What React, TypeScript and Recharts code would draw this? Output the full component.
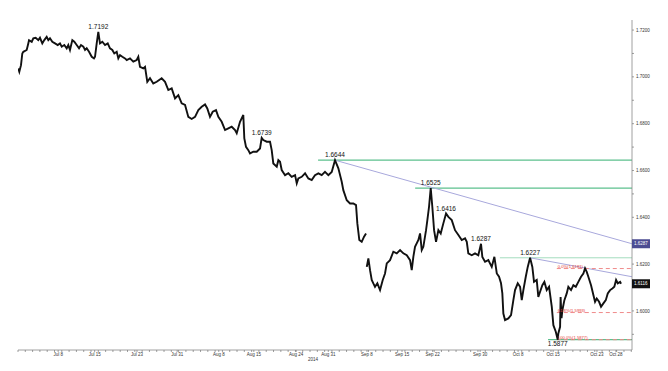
import { LineChart, Line, XAxis, YAxis, ReferenceLine, ReferenceDot } from 'recharts';

// trading-day position (0 = start of July) and GBP/USD price
const sessionDay = [
  0.04, 0.18, 0.41, 0.59, 0.73, 1.19, 1.41, 1.51, 1.88, 2.10, 2.42, 2.78, 3.01, 3.33, 3.60, 3.93, 4.15, 4.38, 4.70, 5.07,
  5.44, 5.75, 5.99, 6.34, 6.67, 6.89, 7.12, 7.44, 7.71, 8.04, 8.36, 8.63, 8.95, 9.18, 9.41, 9.73, 10.10, 10.41, 10.55, 10.78,
  11.00, 11.23, 11.55, 11.92, 12.29, 12.60, 12.92, 13.19, 13.52, 13.74, 13.97, 14.29, 14.66, 14.89, 15.34, 15.79, 16.26, 16.48, 16.71, 17.16,
  17.40, 17.71, 18.08, 18.53, 19.00, 19.68, 20.14, 20.59, 21.05, 21.51, 21.96, 22.42, 22.88, 23.33, 23.79, 24.25, 24.70, 25.16, 25.62, 25.93,
  26.30, 26.67, 27.12, 27.44, 27.90, 28.36, 28.81, 29.27, 29.73, 29.96, 30.41, 30.86, 31.00, 31.23, 31.55, 31.78, 32.23, 32.70, 33.15, 33.38,
  33.60, 34.07, 34.52, 34.75, 34.97, 35.44, 35.66, 35.89, 36.12, 36.58, 37.03, 37.49, 37.95, 38.18, 38.40, 38.86, 39.32, 39.77, 40.23, 40.68,
  41.14, 41.60, 42.05, 42.51, 42.97, 43.42, 43.88, 44.34, 44.56, 45.03, 45.48, 45.93, 46.30, 46.48, 46.75, 47.08, 47.40, 47.67, 47.72, 47.77,
  47.99, 48.22, 48.45, 48.67, 48.90, 49.22, 49.59, 49.96, 50.27, 50.51, 50.96, 51.41, 51.88, 52.33, 52.78, 53.25, 53.70, 53.93, 54.15, 54.38,
  54.84, 55.07, 55.30, 55.52, 55.89, 56.07, 56.30, 56.53, 56.75, 56.99, 57.26, 57.58, 57.90, 58.26, 58.63, 58.95, 59.41, 59.86, 60.32, 60.78,
  61.23, 61.47, 61.68, 62.15, 62.60, 63.05, 63.42, 63.60, 63.97, 64.42, 64.89, 65.25, 65.58, 65.89, 66.16, 66.34, 66.48, 66.71, 67.16, 67.53,
  67.85, 68.08, 68.45, 68.77, 69.00, 69.22, 69.55, 69.82, 70.14, 70.45, 70.68, 71.05, 71.27, 71.51, 71.82, 72.10, 72.42, 72.74, 73.11, 73.33,
  73.66, 73.93, 74.01, 74.25, 74.32, 74.45, 74.56, 74.84, 75.16, 75.38, 75.75, 76.07, 76.40, 76.75, 77.12, 77.44, 77.67, 77.90, 78.12, 78.49,
  78.81, 79.04, 79.27, 79.59, 79.86, 80.18, 80.51, 80.78, 81.10, 81.41, 81.68, 81.92, 82.15, 82.47, 82.60,
];

const gbpusd = [
  1.7036, 1.7022, 1.7050, 1.7100, 1.7107, 1.7115, 1.7143, 1.7157, 1.7150, 1.7165, 1.7167, 1.7157, 1.7167, 1.7143, 1.7157, 1.7171, 1.7157, 1.7165, 1.7150, 1.7143,
  1.7136, 1.7143, 1.7129, 1.7136, 1.7122, 1.7136, 1.7115, 1.7157, 1.7150, 1.7136, 1.7122, 1.7136, 1.7129, 1.7115, 1.7122, 1.7107, 1.7086, 1.7079, 1.7086, 1.7143,
  1.7192, 1.7143, 1.7150, 1.7136, 1.7143, 1.7122, 1.7115, 1.7100, 1.7107, 1.7079, 1.7093, 1.7086, 1.7079, 1.7072, 1.7079, 1.7065, 1.7072, 1.7086, 1.7043, 1.7036,
  1.7043, 1.6979, 1.6994, 1.6972, 1.6979, 1.6994, 1.6979, 1.6944, 1.6951, 1.6908, 1.6922, 1.6887, 1.6880, 1.6829, 1.6820, 1.6829, 1.6858, 1.6872, 1.6882, 1.6865,
  1.6829, 1.6851, 1.6858, 1.6829, 1.6808, 1.6773, 1.6780, 1.6787, 1.6773, 1.6759, 1.6808, 1.6837, 1.6737, 1.6701, 1.6687, 1.6673, 1.6680, 1.6680, 1.6694, 1.6739,
  1.6730, 1.6723, 1.6723, 1.6687, 1.6630, 1.6616, 1.6644, 1.6637, 1.6602, 1.6580, 1.6588, 1.6573, 1.6580, 1.6545, 1.6566, 1.6573, 1.6588, 1.6566, 1.6559, 1.6580,
  1.6588, 1.6580, 1.6594, 1.6580, 1.6594, 1.6644, 1.6609, 1.6552, 1.6516, 1.6473, 1.6459, 1.6459, 1.6452, 1.6374, 1.6303, 1.6295, 1.6317, 1.6331, null, 1.6188,
  1.6224, 1.6174, 1.6132, 1.6118, 1.6103, 1.6118, 1.6089, 1.6132, 1.6160, 1.6203, 1.6217, 1.6253, 1.6246, 1.6260, 1.6246, 1.6238, 1.6217, 1.6174, 1.6231, 1.6274,
  1.6303, 1.6331, 1.6260, 1.6274, 1.6345, 1.6388, 1.6445, 1.6525, 1.6445, 1.6345, 1.6295, 1.6345, 1.6331, 1.6374, 1.6416, 1.6402, 1.6388, 1.6345, 1.6324, 1.6303,
  1.6310, 1.6295, 1.6246, 1.6238, 1.6246, 1.6238, 1.6287, 1.6231, 1.6210, 1.6217, 1.6188, 1.6231, 1.6160, 1.6146, 1.6118, 1.6075, 1.5989, 1.5961, 1.5968, 1.5982,
  1.6046, 1.6089, 1.6118, 1.6103, 1.6046, 1.6089, 1.6146, 1.6188, 1.6227, 1.6188, 1.6124, 1.6132, 1.6060, 1.6082, 1.6110, 1.6124, 1.6089, 1.6103, 1.6018, 1.5939,
  1.5911, 1.5877, 1.5904, 1.5932, 1.6059, 1.5969, 1.6003, 1.6046, 1.6075, 1.6103, 1.6089, 1.6110, 1.6103, 1.6124, 1.6146, 1.6160, 1.6182, 1.6167, 1.6146, 1.6110,
  1.6068, 1.6039, 1.6053, 1.6039, 1.6018, 1.6032, 1.6046, 1.6075, 1.6089, 1.6096, 1.6103, 1.6132, 1.6118, 1.6124, 1.6116,
];

const dateTicks = [5.5, 10.5, 16.3, 21.8, 27.5, 32.3, 38.1, 42.5, 47.8, 52.6, 56.8, 63.3, 68.5, 73.3, 79.3, 81.9];
const dateLabels = ['Jul 8', 'Jul 15', 'Jul 23', 'Jul 31', 'Aug 8', 'Aug 15', 'Aug 24', 'Aug 31', 'Sep 8', 'Sep 15', 'Sep 22', 'Sep 30', 'Oct 8', 'Oct 15', 'Oct 23', 'Oct 28'];

const priceTicks = [1.59, 1.6, 1.61, 1.62, 1.63, 1.64, 1.65, 1.66, 1.67, 1.68, 1.69, 1.7, 1.71, 1.72];

// swing highs / lows that get a text label
const swingDay = [11.0, 33.38, 43.42, 56.53, 58.63, 63.42, 70.14];
const swingPrice = [1.7192, 1.6739, 1.6644, 1.6525, 1.6416, 1.6287, 1.6227];
const swingLow = { day: 73.93, price: 1.5877 };

// horizontal support / resistance lines (start day, level)
const levelStart = [41.1, 54.4, 66.0, 72.6];
const levelPrice = [1.6644, 1.6525, 1.6227, 1.5877];

// fibonacci levels
const fibStart = 73.8;
const fibPrice = [1.6181, 1.5993, 1.5877];
const fibLabels = ['0.0%(1.6181)', '61.8%(1.5993)', '100.0%(1.5877)'];

const lastDay = 84.1;
const trendStart = [{ day: 43.42, price: 1.6644 }, { day: 70.14, price: 1.6227 }];
const trendEnd = [1.6287, 1.6146];
const lastPrice = 1.6116;

const data = sessionDay.map((d, i) => ({ day: d, price: gbpusd[i] }));
const minorDays = Array.from({ length: 85 }, (_, i) => i);

const DateTick = (props: any) => {
  const { x, y, payload } = props;
  const idx = dateTicks.indexOf(payload.value);
  return (
    <g>
      <line x1={x} x2={x} y1={y - 2} y2={y} stroke="#777" strokeWidth={0.7} />
      {idx >= 0 && (
        <text x={x} y={y + 4} textAnchor="middle" fontSize={4.5} fill="#333">
          {dateLabels[idx]}
        </text>
      )}
    </g>
  );
};

const PriceTick = (props: any) => {
  const { x, y, payload } = props;
  const v = payload.value;
  if (v === trendEnd[0] || v === lastPrice) {
    const fill = v === lastPrice ? '#111' : '#4c4c92';
    return (
      <g>
        <rect x={x - 4} y={y - 4.5} width={18} height={9} fill={fill} />
        <text x={x - 2} y={y + 1.6} fontSize={4.5} fill="#fff">{v.toFixed(4)}</text>
      </g>
    );
  }
  const hundredths = Math.round(v * 100);
  const major = hundredths % 2 === 0;
  return (
    <g>
      <line x1={x - 4} x2={x - 2} y1={y} y2={y} stroke="#777" strokeWidth={0.7} />
      {major && (
        <text x={x} y={y + 1.6} fontSize={4.5} fill="#333">{v.toFixed(4)}</text>
      )}
    </g>
  );
};

export default function App() {
  return (
    <div style={{ position: 'absolute', left: 0, top: 0, background: '#fff', fontFamily: '"Liberation Sans", Arial, sans-serif' }}>
      <LineChart width={668} height={371} data={data} margin={{ top: 20, right: 6, bottom: 3, left: 18 }}>
        <XAxis
          dataKey="day"
          type="number"
          domain={[0, lastDay]}
          ticks={[...minorDays, ...dateTicks]}
          interval={0}
          height={8}
          tickSize={2}
          tickMargin={0}
          tickLine={false}
          tick={<DateTick />}
          axisLine={{ stroke: '#888', strokeWidth: 0.8 }}
          allowDataOverflow
        />
        <XAxis
          xAxisId="year"
          dataKey="day"
          type="number"
          domain={[0, lastDay]}
          ticks={[40.4]}
          tickFormatter={() => '2014'}
          height={10}
          tickSize={0}
          tickMargin={0}
          tickLine={false}
          axisLine={false}
          tick={{ fontSize: 4.5, fill: '#333' }}
        />
        <YAxis
          orientation="right"
          type="number"
          domain={[1.5833, 1.7243]}
          allowDataOverflow
          ticks={[...priceTicks, trendEnd[0], lastPrice]}
          interval={0}
          width={30}
          tickSize={2}
          tickMargin={2}
          tickLine={false}
          tick={<PriceTick />}
          axisLine={{ stroke: '#888', strokeWidth: 0.8 }}
        />

        {levelPrice.map((p, i) => (
          <ReferenceLine
            key={`lvl${i}`}
            segment={[{ x: levelStart[i], y: p }, { x: lastDay, y: p }]}
            stroke={i === 2 ? '#a3dcbe' : '#5cc08e'}
            strokeWidth={i === 2 ? 1 : 1.2}
          />
        ))}

        {trendStart.map((s, i) => (
          <ReferenceLine
            key={`trend${i}`}
            segment={[{ x: s.day, y: s.price }, { x: lastDay, y: trendEnd[i] }]}
            stroke="#a8a8dc"
            strokeWidth={1}
          />
        ))}

        {fibPrice.map((p, i) => (
          <ReferenceLine
            key={`fib${i}`}
            segment={[{ x: fibStart, y: p }, { x: lastDay, y: p }]}
            stroke="#f08a8a"
            strokeDasharray="4 3"
            strokeWidth={1}
            label={{ value: fibLabels[i], position: 'insideBottomLeft', offset: 1, fontSize: 4.2, fill: '#e53935' }}
          />
        ))}

        <Line
          dataKey="price"
          stroke="#111"
          strokeWidth={1.9}
          dot={false}
          isAnimationActive={false}
          strokeLinejoin="miter"
        />

        {swingDay.map((d, i) => (
          <ReferenceDot
            key={`sw${i}`}
            x={d}
            y={swingPrice[i]}
            r={0}
            fill="none"
            stroke="none"
            label={{ value: swingPrice[i].toFixed(4), position: 'top', offset: 3, fontSize: 6.5, fill: '#111' }}
          />
        ))}
        <ReferenceDot
          x={swingLow.day}
          y={swingLow.price}
          r={0}
          fill="none"
          stroke="none"
          label={{ value: swingLow.price.toFixed(4), position: 'bottom', offset: 2, fontSize: 6.5, fill: '#111' }}
        />
      </LineChart>
    </div>
  );
}
